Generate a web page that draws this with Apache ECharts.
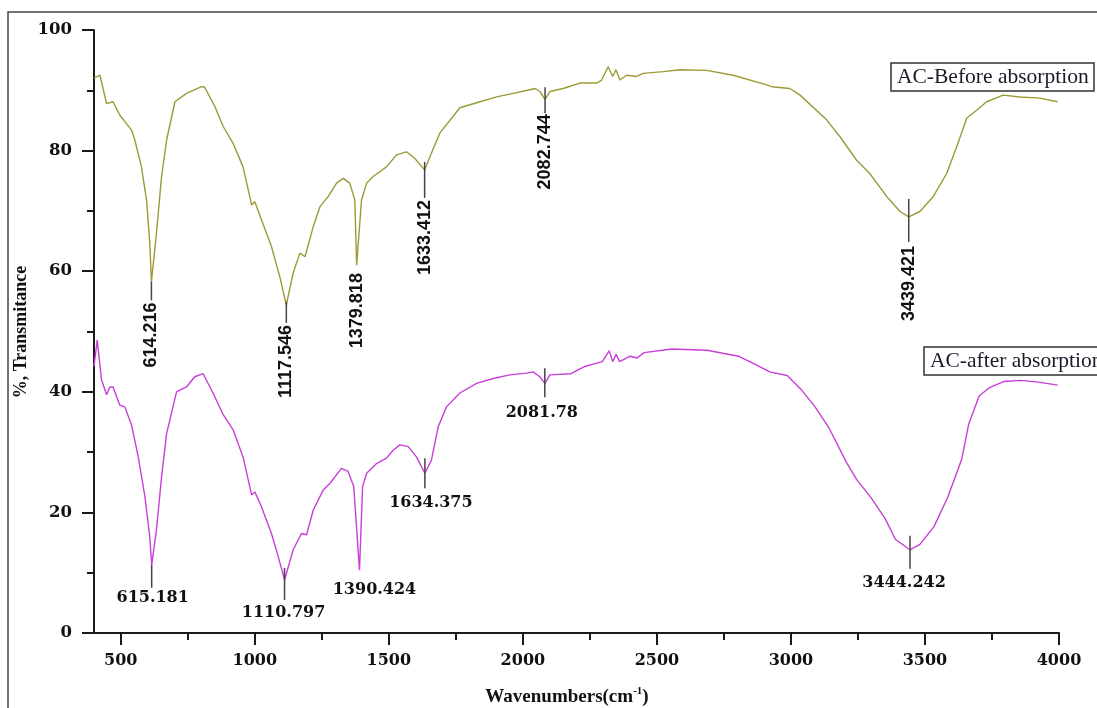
<!DOCTYPE html>
<html>
<head>
<meta charset="utf-8">
<script src="https://cdn.jsdelivr.net/npm/echarts@6/dist/echarts.min.js"></script>
<style>
html,body{margin:0;padding:0;background:#fff;}
#chart{width:1097px;height:708px;}
</style>
</head>
<body>
<div id="chart"></div>
<script>
// ---- data ----
const beforeWn = [400,422,447,471,496,540,552,577,596,608,614.2,633,652,671,702,745,801,813,851,882,919,956,988,1000,1025,1062,1093,1117.5,1143,1168,1187,1218,1243,1274,1305,1330,1354,1373,1379.8,1398,1417,1441,1466,1491,1529,1566,1597,1633.4,1659,1690,1765,1840,1902,1964,2026,2045,2063,2082.7,2101,2150,2213,2275,2294,2318,2335,2347,2362,2387,2424,2449,2523,2586,2685,2785,2909,2928,2996,3034,3133,3183,3245,3294,3357,3407,3439.4,3481,3531,3581,3618,3656,3693,3730,3792,3854,3929,3995];
const beforeT = [92.0,92.5,87.8,88.1,85.9,83.4,81.8,77.3,71.8,64.7,58.3,66.3,75.7,81.8,88.1,89.5,90.6,90.5,87.3,84.0,81.2,77.3,71.0,71.5,68.5,64.1,59.1,54.4,59.7,63.0,62.4,67.4,70.7,72.4,74.6,75.4,74.6,71.8,61.0,71.8,74.6,75.7,76.5,77.3,79.3,79.8,78.7,76.8,79.6,82.9,87.1,88.1,88.9,89.5,90.1,90.3,89.8,88.5,89.8,90.3,91.2,91.2,91.7,93.9,92.3,93.4,91.7,92.5,92.3,92.8,93.1,93.4,93.3,92.5,90.9,90.6,90.3,89.2,85.1,82.3,78.4,76.2,72.4,69.9,69.0,69.9,72.4,76.2,80.6,85.4,86.7,88.1,89.2,88.9,88.7,88.1];

const afterWn = [400,412,428,447,459,471,496,515,540,565,590,608,615.2,633,652,671,708,745,776,807,844,882,919,956,988,1000,1025,1062,1087,1110.8,1143,1174,1193,1218,1255,1280,1323,1348,1369,1390.4,1402,1417,1454,1491,1516,1541,1572,1603,1634.4,1659,1684,1715,1765,1827,1889,1951,2014,2038,2063,2081.8,2101,2179,2231,2296,2322,2335,2348,2361,2400,2426,2452,2556,2687,2804,2856,2921,2986,3038,3090,3142,3207,3246,3298,3351,3390,3444.2,3481,3533,3585,3637,3663,3702,3741,3793,3858,3923,3995];
const afterT = [44.2,48.6,42.0,39.5,40.8,40.8,37.8,37.5,34.5,29.2,22.6,16.0,11.3,17.1,25.9,33.1,40.0,40.8,42.5,43.0,39.8,36.2,33.7,29.2,22.9,23.4,20.9,16.5,12.7,8.8,13.8,16.5,16.3,20.4,23.7,24.8,27.3,26.8,24.3,10.4,24.3,26.5,28.1,29.0,30.3,31.2,30.9,29.2,26.5,28.7,34.2,37.5,39.8,41.4,42.2,42.8,43.1,43.3,42.5,41.4,42.8,43.0,44.2,45.0,46.8,45.0,46.2,45.0,45.9,45.6,46.5,47.1,46.9,45.9,44.8,43.3,42.7,40.4,37.5,34.0,28.3,25.4,22.5,19.0,15.5,13.8,14.7,17.6,22.5,28.8,34.6,39.3,40.7,41.7,41.9,41.6,41.1];

const beforePeakWn = [614.216,1117.546,1379.818,1633.412,2082.744,3439.421];
const beforePeakLabels = ['614.216','1117.546','1379.818','1633.412','2082.744','3439.421'];
const afterPeakWn = [615.181,1110.797,1390.424,1634.375,2081.78,3444.242];
const afterPeakLabels = ['615.181','1110.797','1390.424','1634.375','2081.78','3444.242'];

const xTickValues = [500,1000,1500,2000,2500,3000,3500,4000];
const xMinorTickValues = [750,1250,1750,2250,2750,3250,3750];
const seriesNames = ['AC-Before absorption','AC-after absorption'];

// ---- styles (pixel offsets for annotation marks) ----
const beforeMarkStyle = [
  {up:0,down:19,gap:2},{up:3,down:18,gap:2},{up:0,down:0,gap:8},
  {up:8,down:28,gap:2},{up:12,down:14,gap:1},{up:18,down:25,gap:4}
];
const afterMarkStyle = [
  {up:0,down:23,dy:33,dx:1},{up:12,down:20,dy:33,dx:-1},{up:0,down:0,dy:20,dx:15},
  {up:15,down:15,dy:30,dx:6},{up:15,down:14,dy:29,dx:-3},{up:14,down:19,dy:33,dx:-6}
];

function interp(xs, ys, x){
  for(let i=0;i<xs.length-1;i++){
    if(x>=xs[i] && x<=xs[i+1]){
      const t=(x-xs[i])/(xs[i+1]-xs[i]);
      return ys[i]+t*(ys[i+1]-ys[i]);
    }
  }
  return ys[ys.length-1];
}
const zip=(a,b)=>a.map((v,i)=>[v,b[i]]);

const chart = echarts.init(document.getElementById('chart'), null, {renderer:'canvas'});
const axisColor='#1a1a1a';
const serifBold='"DejaVu Serif", serif';

const option = {
  animation:false,
  backgroundColor:'#fff',
  title:[
    {text:seriesNames[0], left:891, top:63, padding:[3,6,3,6], borderColor:'#333', borderWidth:1.5,
     textStyle:{fontFamily:'"Liberation Serif", serif', fontSize:21.5, fontWeight:'normal', color:'#1a1a2a'}},
    {text:seriesNames[1], left:924, top:347, padding:[3,6,3,6], borderColor:'#333', borderWidth:1.5,
     textStyle:{fontFamily:'"Liberation Serif", serif', fontSize:21.5, fontWeight:'normal', color:'#1a1a2a'}}
  ],
  grid:{left:94, right:38, top:30, bottom:75, containLabel:false},
  xAxis:[
    {type:'value', min:400, max:4000,
     axisLine:{show:true, onZero:false, lineStyle:{color:axisColor, width:2}},
     axisTick:{show:true, customValues:xTickValues, length:12, lineStyle:{color:axisColor, width:2}},
     axisLabel:{show:true, customValues:xTickValues, formatter:(v)=>String(v), margin:20, color:'#111', fontFamily:serifBold, fontWeight:'bold', fontSize:16},
     splitLine:{show:false}},
    {type:'value', min:400, max:4000, position:'bottom',
     axisLine:{show:false},
     axisTick:{show:true, customValues:xMinorTickValues, length:7, lineStyle:{color:axisColor, width:2}},
     axisLabel:{show:false}, splitLine:{show:false}}
  ],
  yAxis:{type:'value', min:0, max:100, interval:20,
     axisLine:{show:true, onZero:false, lineStyle:{color:axisColor, width:2}},
     axisTick:{show:true, length:12, lineStyle:{color:axisColor, width:2}},
     minorTick:{show:true, splitNumber:2, length:7, lineStyle:{color:axisColor, width:2}},
     axisLabel:{margin:22, color:'#111', fontFamily:serifBold, fontWeight:'bold', fontSize:16.5},
     splitLine:{show:false}, minorSplitLine:{show:false}},
  graphic:[
    {type:'rect', shape:{x:8, y:12, width:1100, height:720}, style:{fill:'none', stroke:'#444', lineWidth:1.5}, silent:true, z:-1},
    {type:'text', x:21, y:332, rotation:Math.PI/2,
     style:{text:'%, Transmitance', align:'center', verticalAlign:'middle', font:'bold 18px "Liberation Serif", serif', fill:'#111'}},
    {type:'text', x:567, y:697,
     style:{text:'{a|Wavenumbers(cm}{s|-1}{a|)}', align:'center', verticalAlign:'middle',
       rich:{a:{fontFamily:'"Liberation Serif", serif', fontWeight:'bold', fontSize:19, fill:'#111', lineHeight:22},
             s:{fontFamily:'"Liberation Serif", serif', fontWeight:'bold', fontSize:11, fill:'#111', verticalAlign:'top', lineHeight:22, padding:[0,0,10,0]}}}}
  ],
  series:[
    {name:seriesNames[0], type:'line', showSymbol:false, data:zip(beforeWn,beforeT),
     lineStyle:{color:'#9c9a36', width:1.4}, itemStyle:{color:'#9c9a36'}, z:2},
    {name:seriesNames[1], type:'line', showSymbol:false, data:zip(afterWn,afterT),
     lineStyle:{color:'#c83ed8', width:1.4}, itemStyle:{color:'#c83ed8'}, z:2},
    {type:'custom', clip:false, silent:true, z:5,
     data:beforePeakWn.map(w=>[w, interp(beforeWn,beforeT,w)]),
     encode:{x:0,y:1},
     renderItem:function(params, api){
       const i=params.dataIndex, s=beforeMarkStyle[i];
       const p=api.coord([api.value(0), api.value(1)]);
       const ch=[];
       if(s.up+s.down>0) ch.push({type:'line', shape:{x1:p[0],y1:p[1]-s.up,x2:p[0],y2:p[1]+s.down}, style:{stroke:'#444', lineWidth:1.5}});
       ch.push({type:'text', x:p[0], y:p[1]+s.down+s.gap, rotation:Math.PI/2,
         style:{text:beforePeakLabels[i], align:'right', verticalAlign:'middle', font:'bold 18px "Liberation Sans", sans-serif', fill:'#111'}});
       return {type:'group', children:ch};
     }},
    {type:'custom', clip:false, silent:true, z:5,
     data:afterPeakWn.map(w=>[w, interp(afterWn,afterT,w)]),
     encode:{x:0,y:1},
     renderItem:function(params, api){
       const i=params.dataIndex, s=afterMarkStyle[i];
       const p=api.coord([api.value(0), api.value(1)]);
       const ch=[];
       if(s.up+s.down>0) ch.push({type:'line', shape:{x1:p[0],y1:p[1]-s.up,x2:p[0],y2:p[1]+s.down}, style:{stroke:'#444', lineWidth:1.5}});
       ch.push({type:'text', x:p[0]+s.dx, y:p[1]+s.dy,
         style:{text:afterPeakLabels[i], align:'center', verticalAlign:'middle', font:'bold 16px "DejaVu Serif", serif', fill:'#111'}});
       return {type:'group', children:ch};
     }}
  ]
};
chart.setOption(option);
</script>
</body>
</html>
